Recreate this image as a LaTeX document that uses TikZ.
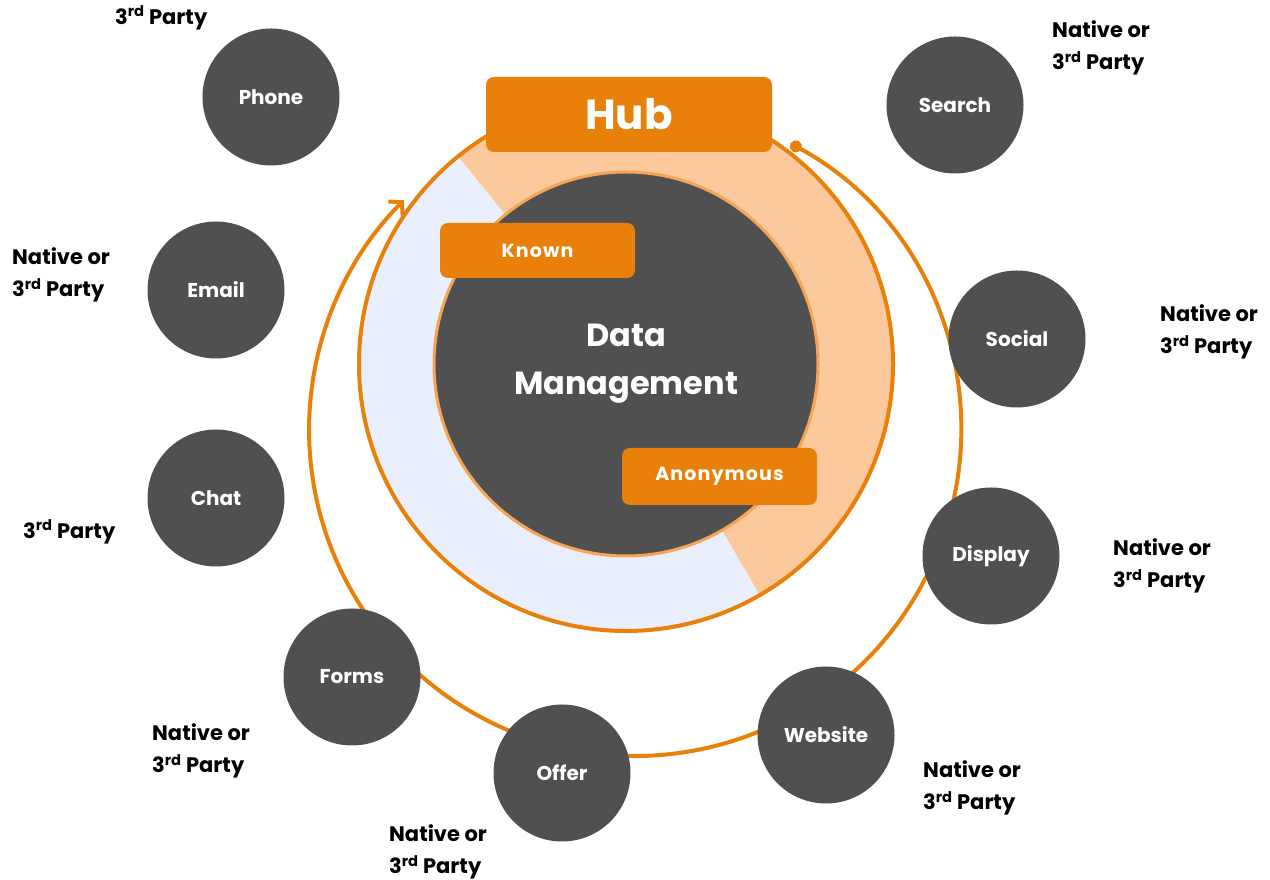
\documentclass[tikz,border=0pt]{standalone}
\usepackage{fontspec}
\setmainfont{Poppins}
\usetikzlibrary{arrows.meta}

\definecolor{hubor}{HTML}{E8800A}
\definecolor{dgray}{HTML}{505050}
\definecolor{peach}{HTML}{FBC99C}
\definecolor{paleblue}{HTML}{E9EFFC}
\definecolor{rimor}{HTML}{F6A456}

\newcommand\thirdp{3\textsuperscript{rd} Party}

\begin{document}
\begin{tikzpicture}[x=1pt,y=1pt,
  channel/.style={circle, fill=dgray, minimum size=137pt, inner sep=0pt,
    text=white, font=\bfseries\fontsize{20}{24}\selectfont},
  tag/.style={fill=hubor, rounded corners=8pt, inner sep=0pt, text=white},
  source/.style={anchor=west, align=left, inner sep=0pt,
    font=\bfseries\fontsize{21}{32}\selectfont},
  loop/.style={hubor, line width=4pt}
]
\useasboundingbox (0,0) rectangle (1270,880);

% ring around the data management core
\coordinate (core) at (626,516);
\fill[peach] (core) -- ++(-60:267) arc[start angle=-60, end angle=129, radius=267] -- cycle;
\fill[paleblue] (core) -- ++(129:267) arc[start angle=129, end angle=300, radius=267] -- cycle;
\draw[hubor, line width=4pt] (core) circle[radius=267];

% circulating arrow around all channels
\coordinate (sp-start) at (790.6,736.5);
\draw[loop, {Circle[length=12pt]}-{Straight Barb[length=9pt, width=20pt]}]
  (sp-start) arc[start angle=61.5, end angle=-224.8, radius=326] coordinate (sp-end);

% core
\node[circle, fill=dgray, draw=rimor, line width=3pt, minimum size=384pt,
  inner sep=0pt, text=white, align=center,
  font=\bfseries\fontsize{32}{48}\selectfont] (dm) at (core) {Data\\Management};

% labels on the core
\node[tag, minimum width=286pt, minimum height=75pt,
  font=\bfseries\fontsize{42}{48}\selectfont] (hub) at (629,765.5) {Hub};
\node[tag, minimum width=195pt, minimum height=55pt,
  font=\bfseries\fontsize{19}{22}\selectfont\addfontfeature{LetterSpace=6}]
  (known) at (537.5,629.5) {Known};
\node[tag, minimum width=195pt, minimum height=57pt,
  font=\bfseries\fontsize{19}{22}\selectfont\addfontfeature{LetterSpace=6}]
  (anon) at (719.5,403.5) {Anonymous};

% channels
\node[channel] (phone)   at (271,783)  {Phone};
\node[channel] (search)  at (955,775)  {Search};
\node[channel] (email)   at (216,590)  {Email};
\node[channel] (social)  at (1017,541) {Social};
\node[channel] (chat)    at (216,382)  {Chat};
\node[channel] (display) at (991,324)  {Display};
\node[channel] (forms)   at (352,203)  {Forms};
\node[channel] (offer)   at (562,107)  {Offer};
\node[channel] (website) at (826,145)  {Website};

% sourcing notes
\node[source] (phone-src)   at (115,862)  {\thirdp};
\node[source] (search-src)  at (1052,832) {Native or\\\thirdp};
\node[source] (email-src)   at (12,605)   {Native or\\\thirdp};
\node[source] (social-src)  at (1160,548) {Native or\\\thirdp};
\node[source] (chat-src)    at (23,348)   {\thirdp};
\node[source] (display-src) at (1113,314) {Native or\\\thirdp};
\node[source] (forms-src)   at (152,129)  {Native or\\\thirdp};
\node[source] (offer-src)   at (389,28)   {Native or\\\thirdp};
\node[source] (website-src) at (923,92)   {Native or\\\thirdp};
\end{tikzpicture}
\end{document}
